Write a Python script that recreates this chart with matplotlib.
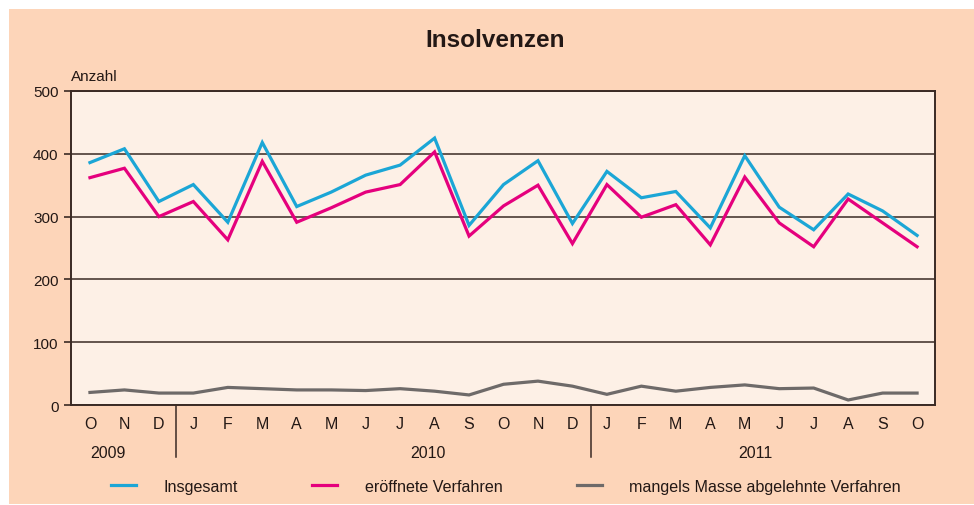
import matplotlib
matplotlib.use('Agg')
import matplotlib.pyplot as plt
from matplotlib.patches import Rectangle
from matplotlib.lines import Line2D

plt.rcParams['font.family'] = ['Liberation Sans', 'DejaVu Sans']

months = ['O', 'N', 'D', 'J', 'F', 'M', 'A', 'M', 'J', 'J', 'A', 'S', 'O', 'N', 'D',
          'J', 'F', 'M', 'A', 'M', 'J', 'J', 'A', 'S', 'O']
years = ['2009', '2010', '2011']
year_pos = [0.52, 9.8, 19.3]
year_breaks = [2.5, 14.55]

insgesamt = [386, 408, 324, 351, 291, 418, 316, 339, 366, 382, 425, 286, 351, 389, 289,
             372, 330, 340, 282, 397, 315, 279, 336, 309, 270]
eroeffnet = [362, 377, 300, 324, 263, 388, 291, 314, 339, 351, 403, 269, 317, 350, 257,
             351, 299, 319, 255, 363, 290, 252, 328, 290, 252]
abgelehnt = [20, 24, 19, 19, 28, 26, 24, 24, 23, 26, 22, 16, 33, 38, 30,
             17, 30, 22, 28, 32, 26, 27, 8, 19, 19]

c_bg = '#FDD5B9'
c_plot = '#FDF0E6'
c_dark = '#3a2a24'
c_blue = '#1BA6D6'
c_pink = '#E5007D'
c_gray = '#6E6A69'

fig = plt.figure(figsize=(9.74, 5.06), dpi=100, facecolor='white')
fig.patches.append(Rectangle((9/974, 1/506), 1, 1 - 11/506, transform=fig.transFigure,
                             facecolor=c_bg, edgecolor='none', zorder=-10))

ax = fig.add_axes((71/974, 1 - 406/506, 864/974, 314/506))
ax.set_facecolor(c_plot)

x = range(len(months))
ax.plot(x, abgelehnt, color=c_gray, lw=2.3, solid_joinstyle='miter')
ax.plot(x, eroeffnet, color=c_pink, lw=2.3, solid_joinstyle='miter')
ax.plot(x, insgesamt, color=c_blue, lw=2.3, solid_joinstyle='miter')

ax.set_xlim(-0.55, 24.52)
ax.set_ylim(0, 500)
ax.set_yticks([0, 100, 200, 300, 400, 500])
ax.set_xticks(list(x))
ax.set_xticklabels(months)
ax.tick_params(axis='x', length=0, pad=8, labelsize=11.5, colors='#231815')
ax.tick_params(axis='y', length=5, width=1.2, pad=4, labelsize=11, colors='#231815',
               color=c_dark)
ax.yaxis.grid(True, color=c_dark, lw=1.1)
ax.set_axisbelow(True)
for s in ax.spines.values():
    s.set_color(c_dark)
    s.set_linewidth(1.4)

for b in year_breaks:
    ax.axvline(b, ymin=-0.166, ymax=0, color=c_dark, lw=1.1, clip_on=False)
for yl, xp in zip(years, year_pos):
    ax.text(xp, -0.152, yl, transform=ax.get_xaxis_transform(), ha='center', va='center',
            fontsize=11.5, color='#231815')

ax.text(0, 1.048, 'Anzahl', transform=ax.transAxes, ha='left', va='center',
        fontsize=11, color='#231815')
fig.text(0.508, 0.919, 'Insolvenzen', ha='center', va='center', fontsize=17.5,
         fontweight='bold', color='#231815')

handles = [Line2D([], [], color=c_blue, lw=2.3),
           Line2D([], [], color=c_pink, lw=2.3),
           Line2D([], [], color=c_gray, lw=2.3)]
labels = ['Insgesamt', 'eröffnete Verfahren', 'mangels Masse abgelehnte Verfahren']
fig.legend(handles, labels, loc='center', bbox_to_anchor=(0.5195, 0.037), ncol=3,
           frameon=False, fontsize=11.6, handlelength=1.55, handletextpad=1.7,
           columnspacing=4.6, labelcolor='#231815')

fig.savefig('out.png', dpi=100, facecolor='white')
